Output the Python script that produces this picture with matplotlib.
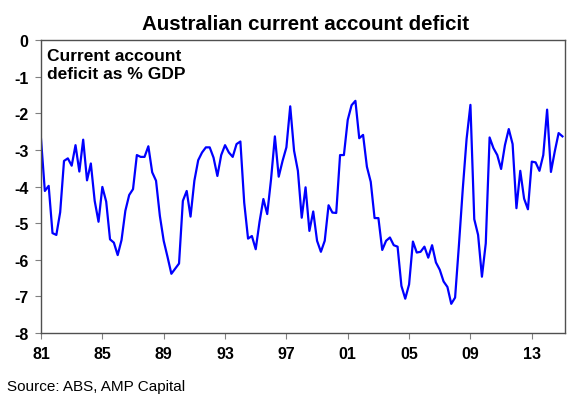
import matplotlib.pyplot as plt
import numpy as np

plt.rcParams['font.family'] = ['Liberation Sans', 'DejaVu Sans']

# quarterly current account balance, % of GDP, 1981Q1 onwards
start_year = 1981
cad = [
    -2.70, -4.12, -3.98, -5.27, -5.32, -4.70, -3.30, -3.23, -3.43, -2.87,
    -3.59, -2.72, -3.83, -3.37, -4.39, -4.96, -4.01, -4.41, -5.44, -5.53,
    -5.87, -5.46, -4.66, -4.23, -4.07, -3.14, -3.19, -3.19, -2.90, -3.61,
    -3.84, -4.80, -5.48, -5.92, -6.38, -6.24, -6.10, -4.39, -4.12, -4.82,
    -3.84, -3.28, -3.07, -2.93, -2.93, -3.21, -3.71, -3.14, -2.87,
    -3.07, -3.19, -2.84, -2.77, -4.44, -5.42, -5.35, -5.71, -4.96, -4.34,
    -4.75, -3.80, -2.63, -3.73, -3.30, -2.93, -1.81, -3.02, -3.57, -4.85,
    -4.02, -5.21, -4.68, -5.48, -5.78, -5.48, -4.51, -4.71, -4.72, -3.14,
    -3.14, -2.18, -1.78, -1.66, -2.68, -2.59, -3.46, -3.87, -4.86, -4.86,
    -5.73, -5.48, -5.39, -5.60, -5.64, -6.71, -7.06, -6.67, -5.50, -5.80,
    -5.78, -5.64, -5.94, -5.60, -6.07, -6.27, -6.59, -6.74, -7.20, -7.03,
    -5.60, -4.07, -2.70, -1.77, -4.89, -5.32, -6.46, -5.55, -2.66, -2.95,
    -3.14, -3.52, -2.87, -2.43, -2.84, -4.59, -3.57, -4.33, -4.62, -3.32,
    -3.34, -3.57, -3.14, -1.90, -3.60, -3.04, -2.54, -2.63,
]
x_ticks = [1981, 1985, 1989, 1993, 1997, 2001, 2005, 2009, 2013]
x_labels = ['81', '85', '89', '93', '97', '01', '05', '09', '13']
y_ticks = [0, -1, -2, -3, -4, -5, -6, -7, -8]

dates = start_year + np.arange(len(cad)) / 4

fig = plt.figure(figsize=(5.8, 4.06), dpi=100)
ax = fig.add_axes([0.0707, 0.177, 0.903, 0.722])

ax.plot(dates, cad, color='#0000ff', lw=1.6)

ax.set_xlim(1981, 2015.15)
ax.set_ylim(-8, 0)
ax.set_xticks(x_ticks, x_labels)
ax.set_yticks(y_ticks, [str(v) for v in y_ticks])
for lab in ax.get_xticklabels() + ax.get_yticklabels():
    lab.set_fontweight('bold')
    lab.set_fontsize(11.5)
ax.tick_params(axis='both', direction='out', length=4, width=0.8,
               color='#808080', pad=5)
for s in ax.spines.values():
    s.set_color('#505050')
    s.set_linewidth(1.0)

ax.text(0.012, 0.972, 'Current account\ndeficit as % GDP', transform=ax.transAxes,
        ha='left', va='top', fontsize=12.5, fontweight='bold', linespacing=1.2)

fig.text(0.527, 0.94, 'Australian current account deficit', ha='center', va='center',
         fontsize=14.8, fontweight='bold')
fig.text(0.012, 0.048, 'Source: ABS, AMP Capital', ha='left', va='center', fontsize=11)

fig.savefig('out.png', dpi=100)
